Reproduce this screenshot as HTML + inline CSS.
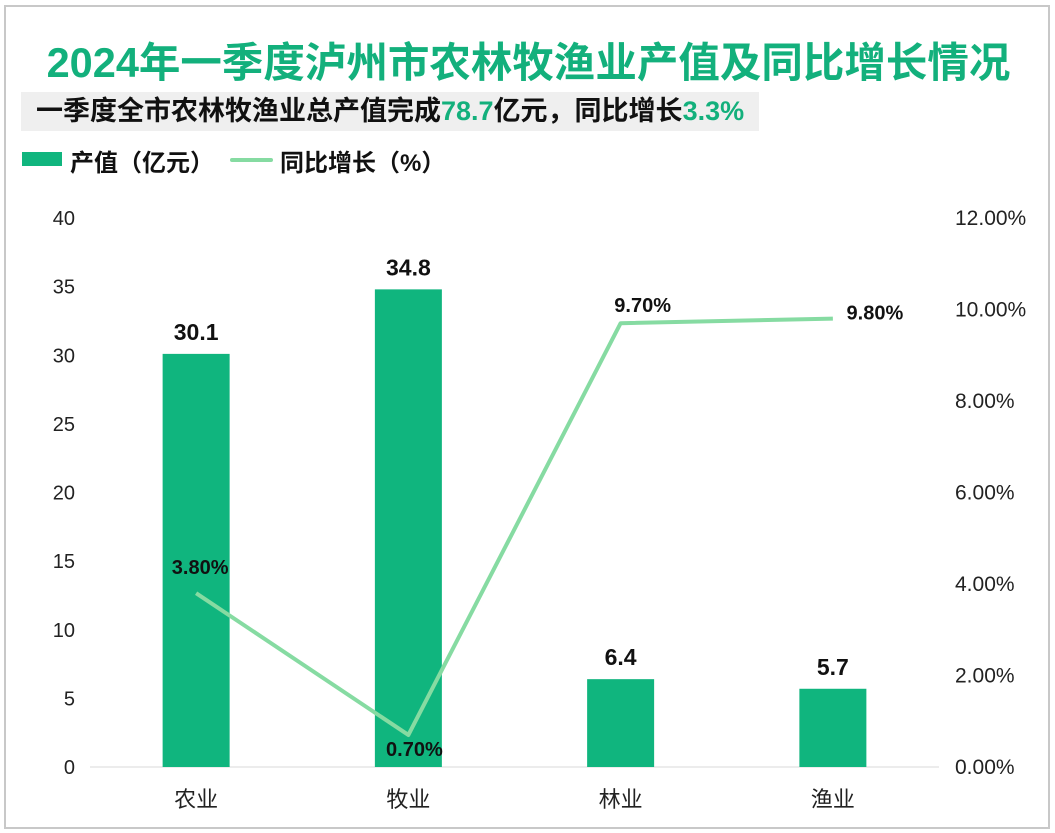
<!DOCTYPE html>
<html><head><meta charset="utf-8"><style>
body{margin:0;width:1055px;height:833px;background:#fff;overflow:hidden;font-family:"Liberation Sans","Noto Sans CJK SC",sans-serif;}
#frame{position:absolute;left:4px;top:5px;width:1046px;height:824px;border:2px solid #c8c8c8;box-sizing:border-box;}
#title{position:absolute;left:0;width:1057px;top:29px;text-align:center;font-size:41.5px;font-weight:bold;color:#13b07c;white-space:nowrap;}
#sub{position:absolute;left:21px;top:92px;width:738px;height:39px;background:#efefef;font-size:27px;font-weight:bold;line-height:39px;padding-left:15px;box-sizing:border-box;color:#111;white-space:nowrap;}
#sub span{color:#13b07c}
.leg{position:absolute;top:143px;font-size:24px;font-weight:bold;color:#111;white-space:nowrap;}
</style></head><body>
<div id="frame"></div>
<div id="title">2024年一季度泸州市农林牧渔业产值及同比增长情况</div>
<div id="sub">一季度全市农林牧渔业总产值完成<span>78.7</span>亿元，同比增长<span>3.3%</span></div>
<div style="position:absolute;left:22px;top:152px;width:40px;height:14px;background:#10b57e"></div>
<div class="leg" style="left:70px">产值（亿元）</div>
<div style="position:absolute;left:230px;top:158px;width:43px;height:4px;background:#86dba2;border-radius:2px"></div>
<div class="leg" style="left:280px">同比增长（%）</div>
<svg id="chart" width="1055" height="833" style="position:absolute;left:0;top:0"></svg>
<script>
const categories=["农业","牧业","林业","渔业"];
const outputValues=[30.1,34.8,6.4,5.7];
const growthValues=[3.8,0.7,9.7,9.8];
const leftTicks=[0,5,10,15,20,25,30,35,40];
const rightTicks=[0,2,4,6,8,10,12];
const svg=document.getElementById('chart');
const NS='http://www.w3.org/2000/svg';
const y0=767,y1=218,x0=90,x1=939;
const yL=v=>y0-(v/40)*(y0-y1);
const yR=v=>y0-(v/12)*(y0-y1);
const step=(x1-x0)/categories.length;
const xC=i=>x0+step*(i+0.5);
function mk(t,a,txt){const e=document.createElementNS(NS,t);for(const k in a)e.setAttribute(k,a[k]);if(txt!=null)e.textContent=txt;svg.appendChild(e);return e;}
let e=mk('line',{x1:x0,x2:x1,y1:y0,y2:y0,stroke:'#d9d9d9','stroke-width':1});


leftTicks.forEach(v=>{const t=mk('text',{x:75,y:yL(v)+7,'text-anchor':'end','font-size':20,fill:'#222'},v);

});
rightTicks.forEach(v=>{const t=mk('text',{x:955,y:yR(v)+7,'font-size':21,fill:'#222'},v.toFixed(2)+'%');

});
categories.forEach((c,i)=>{const t=mk('text',{x:xC(i),y:807,'text-anchor':'middle','font-size':22,fill:'#222'},c);

});
const bw=67;
outputValues.forEach((v,i)=>{const r=mk('rect',{x:xC(i)-bw/2,y:yL(v),width:bw,height:y0-yL(v),fill:'#10b57e'});


const t=mk('text',{x:xC(i),y:yL(v)-14,'text-anchor':'middle','font-size':23,'font-weight':'bold',fill:'#111'},v.toFixed(1));

});
const pts=growthValues.map((v,i)=>[xC(i),yR(v)]);
const pl=mk('polyline',{points:pts.map(p=>p.join(',')).join(' '),fill:'none',stroke:'#86dba2','stroke-width':4,'stroke-linejoin':'round'});


const offs=[[4,-26],[6,14],[22,-18],[42,-6]];
growthValues.forEach((v,i)=>{const t=mk('text',{x:pts[i][0]+offs[i][0],y:pts[i][1]+offs[i][1]+7,'text-anchor':'middle','font-size':20,'font-weight':'bold',fill:'#111'},v.toFixed(2)+'%');

});
</script>
</body></html>
